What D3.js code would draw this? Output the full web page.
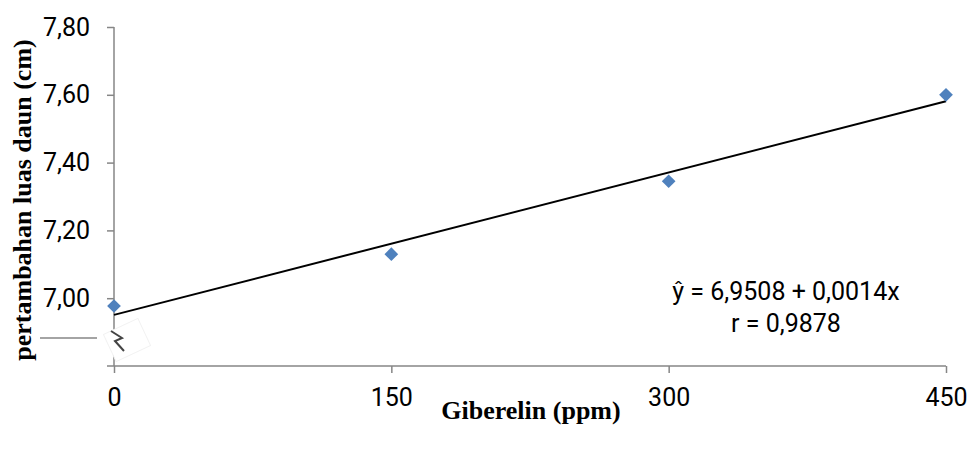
<!DOCTYPE html>
<html lang="en">
<head>
<meta charset="UTF-8">
<script src="https://d3js.org/d3.v7.min.js"></script>
<style>
  body { margin: 0; background: #fff; }
  .tick text { font-family: Roboto, "Liberation Sans", sans-serif; font-size: 25px; fill: #000; }
</style>
</head>
<body>
<script>
// data
var dosis = [0, 150, 300, 450];
var luas = [6.977, 7.13, 7.345, 7.60];
var xTicks = [0, 150, 300, 450];
var yTicks = [7.00, 7.20, 7.40, 7.60, 7.80];
var intercept = 6.9508, slope = 0.0014;

var width = 967, height = 453;
var mLeft = 114, mRight = 946, mTop = 27, mBottom = 366;

var x = d3.scaleLinear().domain([0, 450]).range([mLeft, mRight]);
var y = d3.scaleLinear().domain([6.80, 7.80]).range([mBottom, mTop]);

var svg = d3.select("body").append("svg").attr("width", width).attr("height", height);

var fmt = function(d){ return d3.format(".2f")(d).replace(".", ","); };

// y axis
var gy = svg.append("g").attr("transform", "translate(" + mLeft + ",0)")
  .call(d3.axisLeft(y).tickValues(yTicks).tickFormat(fmt).tickSize(7).tickSizeOuter(0).tickPadding(17));
gy.select(".domain").attr("d", "M0," + mTop + "V" + mBottom);

// x axis
var gx = svg.append("g").attr("transform", "translate(0," + mBottom + ")")
  .call(d3.axisBottom(x).tickValues(xTicks).tickSize(7).tickSizeOuter(0).tickPadding(15));
gx.select(".domain").attr("d", "M" + (mLeft - 7) + ",0H" + mRight);

svg.selectAll(".domain, .tick line").attr("stroke", "#868686").attr("stroke-width", 1.5);

// axis break
svg.append("line").attr("x1", 40).attr("x2", 97).attr("y1", 338).attr("y2", 338)
  .attr("stroke", "#868686").attr("stroke-width", 1.5);
svg.append("rect").attr("x", 108).attr("y", 325).attr("width", 38).attr("height", 30)
  .attr("transform", "rotate(-25,127,340)").attr("fill", "#fff").attr("stroke", "#f2f2f2");
svg.append("path").attr("d", "M111,331 L122,338 L115,341 L124,351")
  .attr("fill", "none").attr("stroke", "#444").attr("stroke-width", 2);

// trend line
svg.append("line")
  .attr("x1", x(0)).attr("y1", y(intercept))
  .attr("x2", x(450)).attr("y2", y(intercept + slope * 450))
  .attr("stroke", "#000").attr("stroke-width", 2);

// points
svg.selectAll(".pt").data(dosis).enter().append("path")
  .attr("class", "pt")
  .attr("d", d3.symbol(d3.symbolDiamond2, 120))
  .attr("transform", function(d, i){ return "translate(" + x(d) + "," + y(luas[i]) + ")"; })
  .attr("fill", "#4f81bd");

// equation
var eq = svg.append("g").attr("font-family", "Roboto, 'Liberation Sans', sans-serif")
  .attr("font-size", 25).attr("text-anchor", "middle");
eq.append("text").attr("x", 786).attr("y", 300).text("ŷ = 6,9508 + 0,0014x");
eq.append("text").attr("x", 786).attr("y", 332).text("r = 0,9878");

// axis titles
svg.append("text").attr("x", 531).attr("y", 419).attr("text-anchor", "middle")
  .attr("font-family", "'Liberation Serif', serif").attr("font-weight", "bold").attr("font-size", 26)
  .text("Giberelin (ppm)");
svg.append("text").attr("transform", "translate(31,200) rotate(-90)").attr("text-anchor", "middle")
  .attr("font-family", "'Liberation Serif', serif").attr("font-weight", "bold").attr("font-size", 26)
  .text("pertambahan luas daun (cm)");
</script>
</body>
</html>
